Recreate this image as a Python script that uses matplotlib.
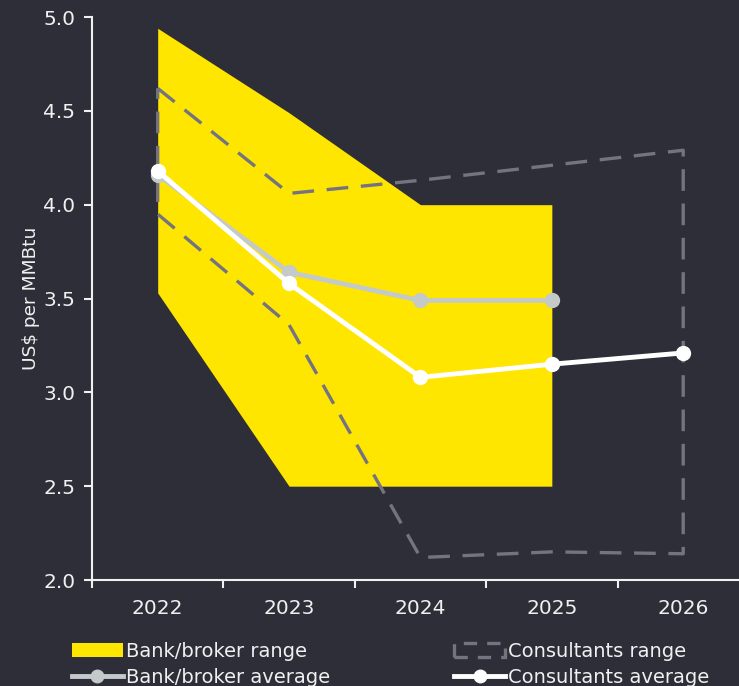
import matplotlib.pyplot as plt
from matplotlib.patches import Patch
from matplotlib.lines import Line2D

years = [2022, 2023, 2024, 2025, 2026]
bank_years = [2022, 2023, 2024, 2025]
bank_high = [4.94, 4.49, 4.00, 4.00]
bank_low = [3.53, 2.50, 2.50, 2.50]
bank_avg = [4.16, 3.64, 3.49, 3.49]
cons_high = [4.62, 4.06, 4.13, 4.21, 4.29]
cons_low = [3.95, 3.36, 2.12, 2.15, 2.14]
cons_avg = [4.18, 3.58, 3.08, 3.15, 3.21]

BG = "#2e2e38"
YELLOW = "#ffe600"
GREY = "#c4c9c9"
DASH = "#747480"
FG = "#f0f0f0"

plt.rcParams['font.family'] = ['DejaVu Sans']

fig = plt.figure(figsize=(7.39, 6.86), dpi=100, facecolor=BG)
ax = fig.add_axes([0.1245, 0.1545, 0.88, 0.8207], facecolor=BG)

ax.fill_between(bank_years, bank_low, bank_high, color=YELLOW, lw=0, zorder=1)

# consultants range drawn as a closed dashed outline
px = years + years[::-1] + [years[0]]
py = cons_high + cons_low[::-1] + [cons_high[0]]
ax.plot(px, py, color=DASH, lw=2.4, dashes=(6.5, 3.8), zorder=2)

ax.plot(bank_years, bank_avg, color=GREY, lw=3.5, marker="o", ms=10, zorder=3)
ax.plot(years, cons_avg, color="white", lw=3.5, marker="o", ms=10, zorder=4)

ax.set_xlim(2021.5, 2026.45)
ax.set_ylim(2.0, 5.0)
ax.set_yticks([2.0, 2.5, 3.0, 3.5, 4.0, 4.5, 5.0])
ax.set_yticklabels(["2.0", "2.5", "3.0", "3.5", "4.0", "4.5", "5.0"])
ax.set_xticks([2021.5, 2022.5, 2023.5, 2024.5, 2025.5])
ax.set_xticklabels([])
ax.set_xticks(years, minor=True)
ax.set_xticklabels([str(y) for y in years], minor=True)
ax.tick_params(axis="x", which="major", length=6, width=1.5, color=FG, direction="out")
ax.tick_params(axis="x", which="minor", length=0, pad=14, labelsize=14.5, labelcolor=FG)
ax.tick_params(axis="y", length=6, width=1.5, color=FG, labelsize=14.5, labelcolor=FG, pad=6)

for s in ["top", "right"]:
    ax.spines[s].set_visible(False)
for s in ["left", "bottom"]:
    ax.spines[s].set_color(FG)
    ax.spines[s].set_linewidth(1.5)

ax.set_ylabel("US$ per MMBtu", color=FG, fontsize=13.3, labelpad=2)

handles = [
    Patch(facecolor=YELLOW, edgecolor="none"),
    Patch(facecolor="none", edgecolor=DASH, linestyle=(0, (4, 3)), lw=2.4),
    Line2D([0], [0], color=GREY, lw=3.5, marker="o", ms=9),
    Line2D([0], [0], color="white", lw=3.5, marker="o", ms=9),
]
labels = ["Bank/broker range", "Consultants range",
          "Bank/broker average", "Consultants average"]
order = [0, 2, 1, 3]
leg = fig.legend([handles[i] for i in order], [labels[i] for i in order],
                 loc="lower left", bbox_to_anchor=(0.074, -0.027), ncol=2,
                 frameon=False, fontsize=14, handlelength=2.6,
                 handletextpad=0.15, columnspacing=6.4, labelspacing=0.36)
for t in leg.get_texts():
    t.set_color(FG)

fig.savefig("out.png", dpi=100, facecolor=BG)
